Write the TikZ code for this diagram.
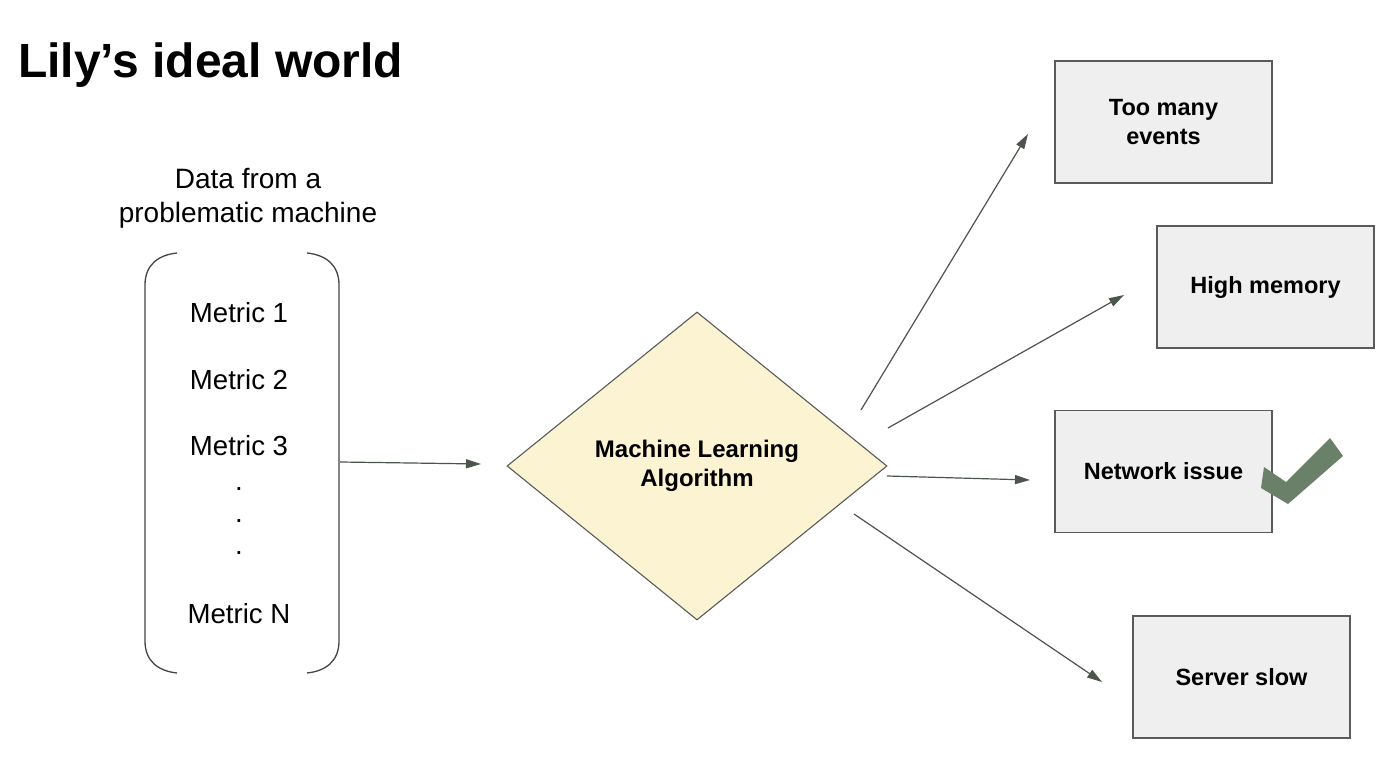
\documentclass[tikz,border=0pt]{standalone}
\usepackage{fontspec}
\setmainfont{Liberation Sans}
\usetikzlibrary{arrows.meta,shapes.geometric}
\definecolor{arrcol}{HTML}{4B554B}
\definecolor{boxfill}{HTML}{EFEFEF}
\definecolor{boxline}{HTML}{5A5A5A}
\definecolor{diafill}{HTML}{FCF3D3}
\definecolor{checkcol}{HTML}{6B8068}
\definecolor{brackcol}{HTML}{454545}
\begin{document}
\begin{tikzpicture}[x=1pt,y=-1pt,
  resbox/.style={draw=boxline,fill=boxfill,line width=1.1pt,rectangle,minimum width=217pt,minimum height=122pt,inner sep=0pt,align=center,font=\fontsize{23.5}{29}\selectfont\bfseries},
  mlnode/.style={draw=boxline,fill=diafill,line width=1.1pt,diamond,minimum width=380pt,minimum height=308pt,inner sep=0pt,align=center,font=\fontsize{24}{29}\selectfont\bfseries},
  metric/.style={font=\fontsize{27.6}{34}\selectfont,inner sep=0pt},
  conn/.style={draw=arrcol,line width=1.2pt,-{Triangle[length=15pt,width=9pt]}},
  brack/.style={draw=brackcol,line width=1.3pt}
]
\useasboundingbox (0,0) rectangle (1400,775);
\fill[white] (0,0) rectangle (1400,775);

% title
\node[anchor=base west,inner sep=0pt,font=\fontsize{48}{56}\selectfont\bfseries] (title) at (18,78) {Lily’s ideal world};

% data caption
\node[align=center,inner sep=0pt,font=\fontsize{28}{34}\selectfont] (caption) at (248,198) {Data from a\\problematic machine};

% brackets
\draw[brack] (177,253) .. controls (158,255) and (145,265) .. (145,285) -- (145,641) .. controls (145,661) and (158,671) .. (177,673);
\draw[brack] (307,253) .. controls (326,255) and (339,265) .. (339,285) -- (339,641) .. controls (339,661) and (326,671) .. (307,673);

% metrics
\node[metric] (m1) at (239,313) {Metric 1};
\node[metric] (m2) at (239,380) {Metric 2};
\node[metric] (m3) at (239,446) {Metric 3};
\node[metric] (d1) at (239,489) {.};
\node[metric] (d2) at (239,521) {.};
\node[metric] (d3) at (239,553) {.};
\node[metric] (mn) at (239,614) {Metric N};

% diamond
\node[mlnode] (ml) at (697,466) {Machine Learning\\Algorithm};

% result boxes
\node[resbox] (tme) at (1163.5,122) {Too many\\events};
\node[resbox] (hm) at (1265.5,287) {High memory};
\node[resbox] (ni) at (1163.5,471.5) {Network issue};
\node[resbox] (ss) at (1241.5,677) {Server slow};

% check mark
\fill[checkcol] (1264,467) -- (1286,482) -- (1330,438) -- (1343,456) -- (1288,504) -- (1261,488) -- cycle;

% connector coordinates
\coordinate (inS) at (340,462);
\coordinate (inE) at (481,464);
\coordinate (a1S) at (861,410);
\coordinate (a1E) at (1028,134);
\coordinate (a2S) at (888,428);
\coordinate (a2E) at (1124,295);
\coordinate (a3S) at (887,476);
\coordinate (a3E) at (1030,480);
\coordinate (a4S) at (854,514);
\coordinate (a4E) at (1102,682);

\draw[conn] (inS) -- (inE);
\draw[conn] (a1S) -- (a1E);
\draw[conn] (a2S) -- (a2E);
\draw[conn] (a3S) -- (a3E);
\draw[conn] (a4S) -- (a4E);
\end{tikzpicture}
\end{document}
